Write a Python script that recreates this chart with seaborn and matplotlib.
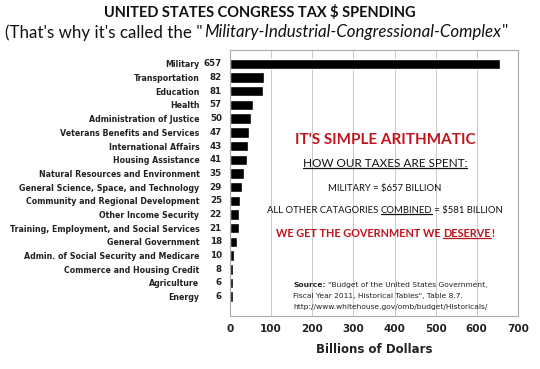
import pandas as pd
import matplotlib.pyplot as plt
import seaborn as sns

# Budget categories and spending (billions of dollars), FY2011
categories = ["Military", "Transportation", "Education", "Health",
              "Administration of Justice", "Veterans Benefits and Services",
              "International Affairs", "Housing Assistance",
              "Natural Resources and Environment",
              "General Science, Space, and Technology",
              "Community and Regional Development", "Other Income Security",
              "Training, Employment, and Social Services", "General Government",
              "Admin. of Social Security and Medicare",
              "Commerce and Housing Credit", "Agriculture", "Energy"]
spending = [657, 82, 81, 57, 50, 47, 43, 41, 35, 29, 25, 22, 21, 18, 10, 8, 6, 6]
x_ticks = [0, 100, 200, 300, 400, 500, 600, 700]

df = pd.DataFrame({"Category": categories, "Spending": spending})

sns.set_style("white")
plt.rcParams['font.family'] = ['DejaVu Sans']

fig = plt.figure(figsize=(5.4, 3.69), dpi=100)
ax = fig.add_axes([0.426, 0.144, 0.533, 0.72])

sns.barplot(data=df, x="Spending", y="Category", orient="h", color="black",
            width=0.76, ax=ax, saturation=1)

ax.set_xlim(0, 700)
ax.set_ylim(18.4, -1.0)
ax.set_xticks(x_ticks)
ax.set_xticklabels([str(t) for t in x_ticks], fontsize=7.5, fontweight="bold", color="#222222")
ax.set_xlabel("Billions of Dollars", fontsize=8.5, fontweight="bold", color="#222222", labelpad=6)
ax.set_ylabel("")
ax.tick_params(axis="y", length=0, pad=22, labelsize=5.65)
ax.tick_params(axis="x", length=0, pad=6)
for lbl in ax.get_yticklabels():
    lbl.set_fontweight("bold")
    lbl.set_color("#222222")
ax.xaxis.grid(True, color="#c8c8c8", linewidth=0.7)
ax.set_axisbelow(True)
for s in ax.spines.values():
    s.set_color("#aaaaaa")
    s.set_linewidth(0.8)

# values next to category names
trans = ax.get_yaxis_transform()
for i, v in enumerate(spending):
    ax.text(-0.028, i, str(v), transform=trans, ha="right", va="center",
            fontsize=6.3, fontweight="bold", color="#222222")

# title
fig.text(0.482, 0.965, "UNITED STATES CONGRESS TAX \\$ SPENDING", ha="center", va="center",
         fontsize=10.5, fontweight="bold", family="Lato", color="#111111")

# subtitle in three pieces (italic middle)
fig.canvas.draw()
r = fig.canvas.get_renderer()
x0 = 0.010
parts = [("(That's why it's called the \"", "normal"),
         ("Military-Industrial-Congressional-Complex", "italic"),
         ("\"", "normal")]
for txt, style in parts:
    t = fig.text(x0, 0.912, txt, ha="left", va="center", fontsize=12.2,
                 family="Lato", style=style, color="#111111")
    bb = t.get_window_extent(renderer=r)
    x0 += bb.width / fig.bbox.width + 0.002


def underline(t, color):
    bb = t.get_window_extent(renderer=r)
    inv = fig.transFigure.inverted()
    (xa, ya), (xb, yb) = inv.transform([(bb.x0, bb.y0), (bb.x1, bb.y0)])
    fig.add_artist(plt.Line2D([xa, xb], [ya + 0.003, yb + 0.003],
                              transform=fig.transFigure, color=color, linewidth=0.9))


cx = 0.713
fig.text(cx, 0.62, "IT'S SIMPLE ARITHMATIC", ha="center", va="center",
         fontsize=11, fontweight="bold", family="Lato", color="#c0141c")
t = fig.text(cx, 0.557, "HOW OUR TAXES ARE SPENT:", ha="center", va="center",
             fontsize=8.5, family="Lato", color="#111111")
underline(t, "#111111")
fig.text(cx, 0.49, "MILITARY = \\$657 BILLION", ha="center", va="center",
         fontsize=6.8, family="Lato", color="#111111")

# line with underlined "COMBINED"
line_parts = [("ALL OTHER CATAGORIES ", False), ("COMBINED", True), (" = \\$581 BILLION", False)]
widths = []
tmp = []
for txt, _ in line_parts:
    tt = fig.text(0, 0, txt, fontsize=6.8, family="Lato")
    widths.append(tt.get_window_extent(renderer=r).width / fig.bbox.width)
    tmp.append(tt)
for tt in tmp:
    tt.remove()
xs = cx - sum(widths) / 2
for (txt, ul), w in zip(line_parts, widths):
    tt = fig.text(xs, 0.43, txt, ha="left", va="center", fontsize=6.8,
                  family="Lato", color="#111111")
    if ul:
        underline(tt, "#111111")
    xs += w

red_parts = [("WE GET THE GOVERNMENT WE ", False), ("DESERVE", True), ("!", False)]
widths = []
tmp = []
for txt, _ in red_parts:
    tt = fig.text(0, 0, txt, fontsize=7.8, fontweight="bold", family="Lato")
    widths.append(tt.get_window_extent(renderer=r).width / fig.bbox.width)
    tmp.append(tt)
for tt in tmp:
    tt.remove()
xs = cx - sum(widths) / 2
for (txt, ul), w in zip(red_parts, widths):
    tt = fig.text(xs, 0.368, txt, ha="left", va="center", fontsize=7.8,
                  fontweight="bold", family="Lato", color="#c0141c")
    if ul:
        underline(tt, "#c0141c")
    xs += w

# source note
src_y = [0.228, 0.198, 0.168]
fs = 5.4
t = fig.text(0.543, src_y[0], "Source:", ha="left", va="center", fontsize=fs,
             fontweight="bold", color="#222222")
w = t.get_window_extent(renderer=r).width / fig.bbox.width
fig.text(0.543 + w + 0.004, src_y[0], "\"Budget of the United States Government,",
         ha="left", va="center", fontsize=fs, color="#222222")
fig.text(0.543, src_y[1], "Fiscal Year 2011, Historical Tables\", Table 8.7.",
         ha="left", va="center", fontsize=fs, color="#222222")
fig.text(0.543, src_y[2], "http://www.whitehouse.gov/omb/budget/Historicals/",
         ha="left", va="center", fontsize=fs, color="#222222")

fig.savefig("out.png", dpi=100)
